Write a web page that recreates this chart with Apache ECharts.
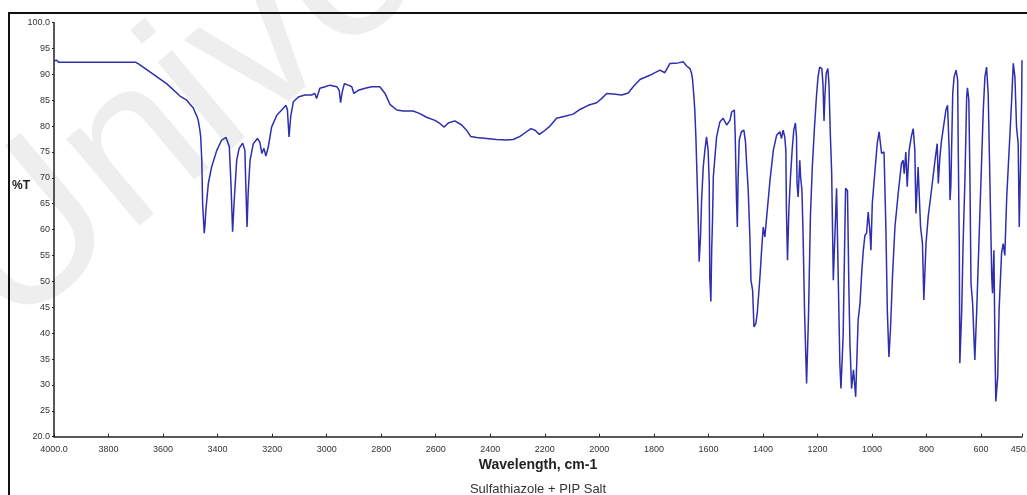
<!DOCTYPE html>
<html>
<head>
<meta charset="utf-8">
<script src="https://cdn.jsdelivr.net/npm/echarts@6/dist/echarts.min.js"></script>
<style>
  html, body { margin: 0; padding: 0; background: #ffffff; }
  #chart { width: 1027px; height: 495px; }
</style>
</head>
<body>
<div id="chart"></div>
<script>
// FT-IR spectrum: wavenumber (cm-1) and percent transmittance
const wavenumbers = [
  4000, 3990, 3982, 3950, 3800, 3700, 3690, 3587, 3538, 3513, 3501, 3489, 3483, 3475, 3471,
  3465, 3462, 3458, 3455, 3449, 3446, 3443, 3434, 3422, 3403, 3385, 3369, 3357, 3351, 3345,
  3339, 3330, 3321, 3308, 3300, 3296, 3292, 3288, 3281, 3269, 3254, 3245, 3238, 3230, 3223,
  3214, 3202, 3183, 3165, 3149, 3144, 3138, 3132, 3122, 3104, 3080, 3055, 3043, 3037, 3025,
  3006, 2988, 2963, 2954, 2949, 2943, 2935, 2921, 2908, 2900, 2884, 2859, 2835, 2805, 2786,
  2768, 2743, 2719, 2683, 2658, 2634, 2603, 2585, 2569, 2554, 2530, 2505, 2487, 2472, 2450,
  2413, 2377, 2340, 2316, 2291, 2267, 2251, 2236, 2220, 2206, 2181, 2157, 2126, 2096, 2071,
  2041, 2010, 1992, 1973, 1949, 1918, 1894, 1876, 1851, 1815, 1778, 1760, 1741, 1711, 1692,
  1680, 1668, 1662, 1658, 1653, 1650, 1646, 1641, 1637, 1634, 1629, 1625, 1619, 1613, 1607,
  1601, 1597, 1595, 1591, 1588, 1585, 1582, 1576, 1570, 1558, 1546, 1533, 1521, 1515, 1505,
  1502, 1497, 1494, 1491, 1487, 1479, 1470, 1464, 1460, 1454, 1448, 1444, 1438, 1433, 1426,
  1421, 1411, 1405, 1399, 1393, 1384, 1374, 1362, 1350, 1338, 1332, 1326, 1320, 1316, 1314,
  1310, 1305, 1299, 1293, 1287, 1281, 1277, 1275, 1271, 1265, 1262, 1257, 1253, 1247, 1240,
  1233, 1226, 1219, 1211, 1204, 1198, 1192, 1184, 1180, 1176, 1173, 1168, 1162, 1158, 1153,
  1148, 1142, 1130, 1118, 1114, 1106, 1097, 1090, 1085, 1081, 1075, 1068, 1060, 1051, 1044,
  1038, 1032, 1026, 1020, 1014, 1008, 1004, 999, 989, 981, 974, 965, 956, 949, 944,
  938, 932, 925, 916, 904, 892, 886, 882, 876, 871, 864, 855, 849, 843, 839,
  831, 822, 815, 810, 802, 794, 782, 769, 761, 757, 751, 745, 736, 729, 723,
  717, 714, 711, 704, 699, 692, 686, 684, 680, 678, 671, 666, 659, 653, 650,
  645, 641, 637, 631, 623, 616, 604, 592, 586, 580, 574, 568, 561, 558, 553,
  549, 546, 539, 534, 525, 519, 513, 506, 494, 488, 482, 476, 470, 464, 460,
  455, 451, 450
];
const transmittance = [
  92.6, 92.7, 92.3, 92.3, 92.3, 92.3, 92.0, 88.2, 85.8, 85.0, 84.2, 83.5, 82.7, 81.8, 81.1,
  79.2, 77.9, 73.4, 65.1, 59.3, 61.0, 63.8, 68.9, 72.1, 75.3, 77.3, 77.8, 76.0, 68.9, 59.6,
  65.7, 73.4, 75.7, 76.7, 75.3, 67.6, 60.5, 67.0, 73.4, 76.6, 77.6, 76.9, 74.7, 75.7, 74.2,
  76.0, 79.8, 82.1, 83.1, 84.0, 83.1, 77.9, 81.8, 84.7, 85.6, 86.0, 86.0, 86.3, 85.3, 87.3,
  87.6, 87.9, 87.6, 86.9, 84.5, 86.6, 88.2, 87.9, 87.6, 86.3, 86.9, 87.3, 87.6, 87.6, 86.3,
  84.2, 83.1, 82.9, 82.9, 82.4, 81.7, 81.1, 80.5, 79.8, 80.6, 81.0, 80.2, 79.2, 78.0, 77.8,
  77.6, 77.4, 77.3, 77.4, 78.0, 78.9, 79.5, 79.2, 78.4, 78.9, 80.0, 81.5, 81.9, 82.3, 83.2,
  84.0, 84.5, 85.3, 86.3, 86.2, 86.0, 86.4, 87.6, 89.0, 89.8, 90.8, 90.3, 92.1, 92.2, 92.4,
  91.6, 91.1, 90.2, 88.9, 85.5, 83.1, 77.9, 68.9, 61.2, 53.8, 58.6, 65.7, 72.1, 75.3, 77.9,
  75.3, 68.9, 50.9, 46.1, 56.0, 61.8, 70.2, 74.1, 77.9, 80.8, 81.5, 80.2, 81.1, 82.7, 83.1,
  78.6, 65.7, 60.5, 70.2, 77.3, 78.9, 79.2, 76.9, 72.8, 67.6, 58.6, 50.2, 48.3, 41.2, 41.9,
  43.8, 50.9, 56.0, 60.5, 58.6, 63.8, 69.6, 75.3, 78.2, 78.9, 77.6, 79.2, 77.9, 75.3, 63.8,
  54.1, 63.8, 70.2, 75.3, 79.2, 80.6, 77.9, 68.9, 66.3, 73.4, 70.2, 67.6, 59.3, 43.2, 30.3,
  43.2, 62.5, 72.1, 79.8, 85.6, 89.5, 91.4, 91.1, 88.2, 81.0, 85.6, 90.2, 91.1, 88.2, 78.6,
  71.0, 50.2, 68.0, 34.2, 29.3, 39.3, 68.0, 67.5, 49.0, 38.0, 29.3, 32.9, 27.7, 42.5, 45.8,
  51.6, 56.0, 58.9, 59.3, 63.4, 59.9, 56.0, 65.1, 71.5, 76.6, 78.9, 74.7, 75.0, 59.9, 44.5,
  35.4, 41.2, 50.9, 60.5, 67.0, 72.8, 73.4, 70.8, 75.0, 68.3, 75.3, 78.2, 79.5, 75.3, 63.1,
  72.1, 60.5, 57.3, 46.4, 57.3, 62.5, 67.6, 73.4, 76.6, 68.9, 74.1, 77.3, 80.5, 83.1, 84.0,
  75.3, 65.7, 68.3, 86.3, 89.5, 90.8, 88.9, 76.6, 57.3, 34.2, 44.5, 57.3, 70.2, 85.6, 87.4,
  85.0, 70.2, 49.6, 45.7, 34.8, 44.5, 63.8, 83.1, 89.5, 91.4, 86.3, 70.2, 50.9, 47.7, 56.0,
  36.7, 26.8, 31.6, 44.5, 55.4, 57.3, 55.0, 66.3, 78.6, 85.0, 92.1, 89.5, 79.8, 76.6, 60.5,
  73.4, 86.3, 92.7
];

// Axis tick values
const xTickValues = [4000, 3800, 3600, 3400, 3200, 3000, 2800, 2600, 2400, 2200, 2000,
                     1800, 1600, 1400, 1200, 1000, 800, 600, 450];
const yMin = 20, yMax = 100, yStep = 5;

const xTitle = 'Wavelength, cm-1';
const yTitle = '%T';
const caption = 'Sulfathiazole + PIP Salt';
const watermark = 'Universiti';

const points = wavenumbers.map((w, i) => [w, transmittance[i]]);

const chart = echarts.init(document.getElementById('chart'), null, { renderer: 'canvas' });

const labelFont = { fontFamily: 'Liberation Sans, Arial, sans-serif', fontSize: 9, color: '#333333' };

chart.setOption({
  animation: false,
  backgroundColor: '#ffffff',
  grid: {
    left: 54, right: 5, top: 22.5, bottom: 58.3,
    containLabel: false,
    outerBoundsMode: 'none'
  },
  xAxis: {
    type: 'value',
    inverse: true,
    min: 450,
    max: 4000,
    axisLine: { show: true, lineStyle: { color: '#222222', width: 1.5 } },
    axisTick: { show: true, inside: true, length: 3, customValues: xTickValues,
                lineStyle: { color: '#222222', width: 1 } },
    axisLabel: Object.assign({
      customValues: xTickValues,
      margin: 8,
      hideOverlap: false,
      formatter: v => (v === 4000 || v === 450) ? v.toFixed(1) : String(v)
    }, labelFont),
    splitLine: { show: false }
  },
  yAxis: {
    type: 'value',
    min: yMin,
    max: yMax,
    interval: yStep,
    axisLine: { show: true, lineStyle: { color: '#222222', width: 1.5 } },
    axisTick: { show: true, inside: false, length: 2, lineStyle: { color: '#222222', width: 1 } },
    axisLabel: Object.assign({
      margin: 4,
      formatter: v => (v === yMin || v === yMax) ? v.toFixed(1) : String(v)
    }, labelFont),
    splitLine: { show: false }
  },
  graphic: [
    {
      // faint diagonal watermark behind the plot
      type: 'text',
      silent: true,
      z: -10,
      x: 40,
      y: 372,
      rotation: 40 * Math.PI / 180,
      style: {
        text: watermark,
        fill: '#eeeeee',
        font: 'normal 215px "Liberation Sans", Arial, sans-serif',
        align: 'left',
        verticalAlign: 'bottom'
      }
    },
    {
      type: 'rect',
      silent: true,
      z: 10,
      shape: { x: 9, y: 13, width: 1040, height: 500 },
      style: { fill: 'none', stroke: '#111111', lineWidth: 2 }
    },
    {
      type: 'text',
      z: 10,
      x: 12,
      y: 186,
      style: {
        text: yTitle,
        fill: '#222222',
        font: 'bold 12px "Liberation Sans", Arial, sans-serif',
        align: 'left',
        verticalAlign: 'middle'
      }
    },
    {
      type: 'text',
      z: 10,
      x: 538,
      y: 465,
      style: {
        text: xTitle,
        fill: '#222222',
        font: 'bold 14px "Liberation Sans", Arial, sans-serif',
        align: 'center',
        verticalAlign: 'middle'
      }
    },
    {
      type: 'text',
      z: 10,
      x: 538,
      y: 489,
      style: {
        text: caption,
        fill: '#333333',
        font: 'normal 13px "Liberation Sans", Arial, sans-serif',
        align: 'center',
        verticalAlign: 'middle'
      }
    }
  ],
  series: [{
    type: 'line',
    data: points,
    showSymbol: false,
    symbol: 'none',
    smooth: false,
    clip: true,
    lineStyle: { color: '#2e2eb0', width: 1.5 },
    z: 2
  }]
});
</script>
</body>
</html>
